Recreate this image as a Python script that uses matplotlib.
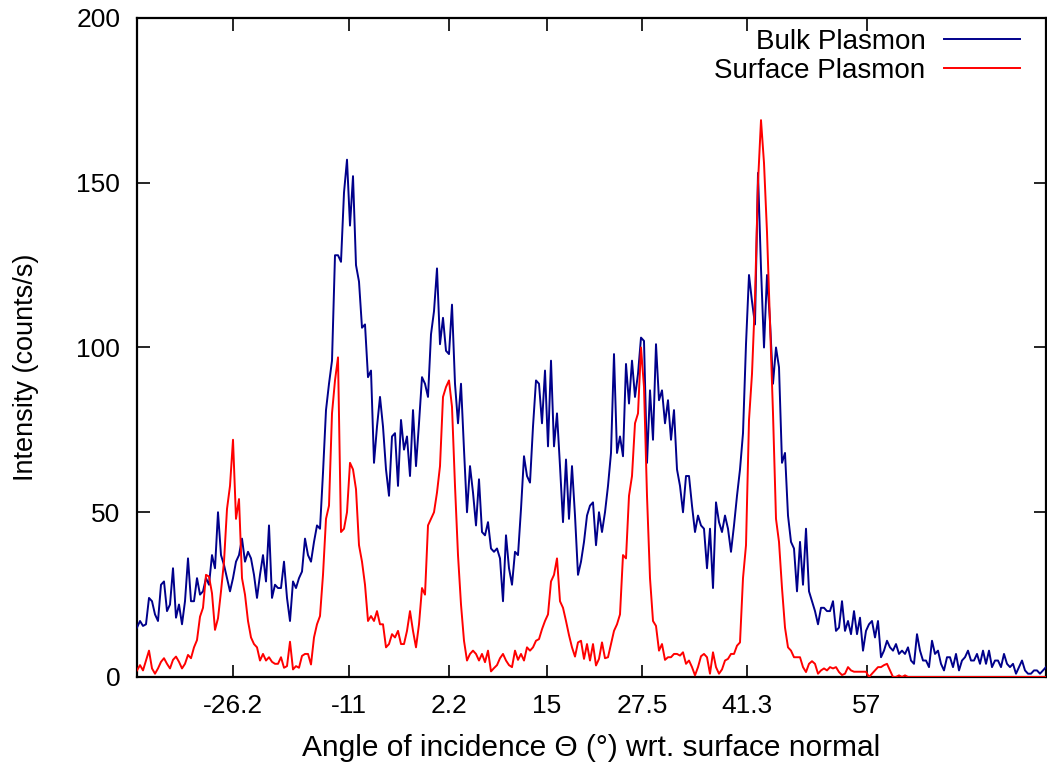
import numpy as np
import matplotlib
matplotlib.use("Agg")
import matplotlib.pyplot as plt

plt.rcParams['font.family'] = ['Liberation Sans', 'DejaVu Sans']

# Intensity readings (counts/s) on an evenly spaced angle grid
bulk_plasmon = [
    15, 17, 15.5, 16, 24, 23, 19, 17, 28, 29,
    20, 22, 33, 18, 22, 16, 23, 36, 23, 23,
    30, 25, 26, 30, 28, 37, 33, 50, 37, 34,
    30, 26, 30, 35, 37, 42, 35, 38, 36, 31,
    24, 31, 37, 29, 46, 24, 28, 27, 27, 35,
    24, 17, 29, 27, 30, 32, 42, 37, 35, 41,
    46, 45, 62, 81, 89, 96, 128, 128, 126, 147,
    157, 137, 152, 125, 120, 106, 107, 91, 93, 65,
    76, 85, 76, 63, 55, 73, 74, 58, 78, 69,
    73, 61, 81, 64, 77, 91, 89, 85, 104, 111,
    124, 101, 109, 99, 98, 113, 89, 77, 89, 69,
    50, 64, 56, 46, 60, 44, 43, 47, 39, 38,
    39, 36, 23, 43, 33, 28, 38, 37, 51, 67,
    61, 59, 76, 90, 89, 77, 93, 70, 96, 70,
    80, 64, 47, 66, 48, 64, 49, 31, 35, 41,
    49, 52, 53, 40, 50, 44, 50, 58, 68, 98,
    68, 73, 67, 95, 83, 96, 85, 92, 103, 102,
    65, 87, 72, 101, 84, 87, 77, 84, 72, 81,
    63, 58, 50, 61, 61, 52, 44, 49, 46, 45,
    33, 45, 27, 53, 47, 44, 49, 45, 38, 46,
    55, 63, 74, 101, 122, 114, 107, 153, 124, 100,
    122, 108, 89, 100, 94, 65, 68, 49, 41, 39,
    26, 41, 28, 45, 26, 23, 20, 16, 21, 21,
    20, 20, 23, 14, 15, 23, 14, 17, 13, 20,
    13, 18, 8, 14, 16, 17, 12, 17, 6, 8,
    11, 9, 8, 10, 7, 8, 7, 9, 5, 4,
    13, 8, 5, 5, 3, 11, 7, 8, 4, 2,
    6, 6, 3, 7, 2, 5, 6, 8, 5, 5,
    7, 4, 8, 4, 8, 3, 5, 5, 3, 7,
    4, 3, 4, 1, 3, 5, 2, 1, 1, 2,
    2, 1, 2, 3,
]

surface_plasmon = [
    2, 3.6, 2, 5, 8, 2.6, 1, 2.6, 4.6, 5.7,
    4, 2.6, 5.2, 6.2, 4.6, 2.6, 4, 6.7, 5.7, 9,
    11.2, 18.3, 21, 31, 30.5, 25.4, 14.3, 17.8, 26, 35,
    51, 58, 72, 48, 54, 30, 25, 17, 12, 10,
    9, 5, 7, 5, 6, 4.6, 4, 4, 6, 2.8,
    3.3, 10.7, 2.3, 3.3, 2.8, 6.4, 7, 7, 3.8, 12,
    16, 18.5, 31, 48, 52, 80, 90, 97, 44, 45,
    50, 65, 63, 57, 40, 35, 28, 17, 18.5, 17,
    20, 16, 16, 9, 10, 13, 12, 14, 10, 10,
    14, 20, 14, 9, 16, 27, 25, 46, 48, 50,
    56, 64, 85, 88, 90, 82, 58, 37, 22, 11,
    5, 7, 8, 7, 5, 7, 4.5, 8, 1.7, 2.7,
    3.6, 5.7, 7, 5, 3.6, 3, 8, 5.2, 7, 5,
    9, 8, 9, 11, 11.5, 14.5, 17, 19, 29, 31,
    36, 23, 21, 17, 12.7, 9, 6.2, 10.5, 11, 5.5,
    10, 5, 10, 3.5, 5.5, 10.5, 5.7, 6, 10, 14,
    16, 19, 37, 36, 55, 61, 77, 80, 100, 88,
    55, 30, 17, 15.5, 8, 10, 5.2, 6, 6, 7,
    7, 6.5, 7.5, 4, 5, 3, 0.5, 3, 6.3, 7,
    6, 1, 7.5, 3, 1, 2.3, 5, 5.5, 7, 7,
    9.5, 10.5, 30, 40, 78, 92, 115, 150, 169, 156,
    135, 107, 80, 48, 41, 27, 15, 9, 8, 6,
    6, 6, 3, 1.5, 4, 4.8, 4, 1, 2, 2.6,
    2, 3, 2.6, 3, 1.5, 0.6, 1, 3, 2, 1.6,
    1.6, 1.6, 1.6, 1.6, 0, 1, 2, 3, 3, 3.6,
    4, 2, 0, 0, 0.5, 0, 0.5, 0, 0, 0,
    0, 0, 0, 0, 0, 0, 0, 0, 0, 0,
    0, 0, 0, 0, 0, 0, 0, 0, 0, 0,
    0, 0, 0, 0, 0, 0, 0, 0, 0, 0,
    0, 0, 0, 0, 0, 0, 0, 0, 0, 0,
    0, 0, 0, 0,
]

angle_start, angle_stop = -38.8, 80.49
x_ticks = [-26.2, -11, 2.2, 15, 27.5, 41.3, 57]
x_tick_labels = ['-26.2', '-11', '2.2', '15', '27.5', '41.3', '57']
y_ticks = [0, 50, 100, 150, 200]
series_names = ['Bulk Plasmon', 'Surface Plasmon']

angle = np.linspace(angle_start, angle_stop, len(bulk_plasmon))

W, H = 1047, 765
fig = plt.figure(figsize=(W / 100, H / 100), dpi=100)
ax = fig.add_axes([137 / W, 88 / H, 909 / W, 659 / H])

ax.plot(angle, bulk_plasmon, color='#00008b', lw=1.4, label=series_names[0], zorder=3)
ax.plot(angle, surface_plasmon, color='#ff0000', lw=1.4, label=series_names[1], zorder=4)

ax.set_xlim(angle_start, angle_stop)
ax.set_ylim(0, 200)
ax.set_xticks(x_ticks)
ax.set_xticklabels(x_tick_labels)
ax.set_yticks(y_ticks)

ax.tick_params(direction='in', length=9, width=1.2, labelsize=19,
               top=True, right=True, pad=12)
for s in ax.spines.values():
    s.set_linewidth(1.6)

ax.set_xlabel('Angle of incidence \u0398 (\u00b0) wrt. surface normal', fontsize=21.5, labelpad=12)
ax.set_ylabel('Intensity (counts/s)', fontsize=19.5)
ax.yaxis.set_label_coords(-0.108, 0.47)

leg = ax.legend(loc='upper right', bbox_to_anchor=(0.9714, 0.984), frameon=False,
                markerfirst=False, fontsize=20, handlelength=2.73,
                handletextpad=0.68, labelspacing=0.11, borderaxespad=0,
                borderpad=0)

fig.savefig('out.png', dpi=100)
